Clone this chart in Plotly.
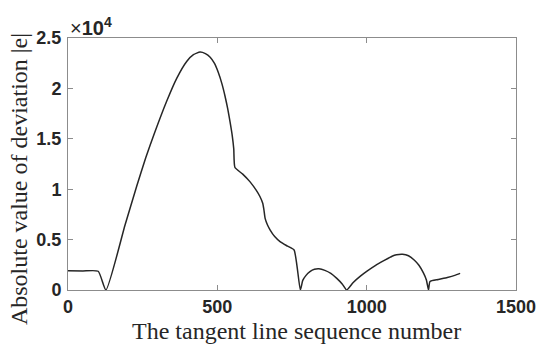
import plotly.graph_objects as go

seq = [0, 50, 101, 127, 191, 230, 260, 290, 330, 364, 398, 420, 442, 460, 476, 490, 503, 515, 526,
       535, 543, 550, 555, 559, 585, 609, 630, 643, 652, 656, 660, 668, 677, 692, 710, 735, 757,
       778, 786, 797, 810, 825, 840, 860, 880, 900, 918, 933,
       955, 980, 1000, 1030, 1060, 1085, 1100, 1120, 1140, 1160, 1175, 1190, 1200, 1207,
       1212, 1240, 1270, 1295, 1313]
dev = [1900, 1890, 1860, 0, 6450, 10300, 13100, 15600, 18700, 21000, 22700, 23350, 23600, 23450, 23100, 22500, 21600, 20500, 19200,
       17950, 16600, 15300, 14000, 12150, 11500, 10750, 9900, 9250, 8600, 7950, 7100, 6450, 5950, 5300, 4800, 4350, 3970,
       0, 950, 1450, 1820, 2050, 2100, 1950, 1650, 1150, 600, 0,
       750, 1400, 1850, 2450, 2950, 3350, 3500, 3550, 3400, 2950, 2450, 1700, 1000, 0,
       850, 1050, 1250, 1450, 1650]

x_ticks = [0, 500, 1000, 1500]
y_ticks = [0, 5000, 10000, 15000, 20000, 25000]
y_tick_labels = ["0", "0.5", "1", "1.5", "2", "2.5"]
x_title = "The tangent line sequence number"
y_title = "Absolute value of deviation |e|"

fig = go.Figure()
fig.add_trace(go.Scatter(x=seq, y=dev, mode="lines",
                         line=dict(color="#262626", width=1.5, shape="spline", smoothing=0.5),
                         showlegend=False))

tick_font = dict(family="Liberation Sans, Arial", size=18, color="#262626")
axis_common = dict(showline=True, linecolor="#8c8c8c", linewidth=1, mirror="ticks",
                   ticks="inside", ticklen=5, tickcolor="#8c8c8c", showgrid=False, zeroline=False,
                   automargin=False, tickfont=tick_font)

title_font = dict(family="Liberation Serif, Times New Roman", size=24, color="#262626")

fig.update_layout(
    width=538, height=346,
    margin=dict(l=68, r=22, t=38, b=56),
    paper_bgcolor="white", plot_bgcolor="white",
    xaxis=dict(range=[0, 1500], tickvals=x_ticks, ticktext=[f"<b>{v}</b>" for v in x_ticks], **axis_common),
    yaxis=dict(range=[0, 25000], tickvals=y_ticks, ticktext=[f"<b>{t}</b>" for t in y_tick_labels],
               ticklabelstandoff=2, **axis_common),
    annotations=[
        dict(text="×<b>10</b><sup><b>4</b></sup>", xref="paper", yref="paper", x=0.0, y=1.0,
             xanchor="left", yanchor="bottom", yshift=-3, showarrow=False,
             font=dict(family="Liberation Sans, Arial", size=20, color="#262626")),
        dict(text=x_title, xref="paper", yref="paper", x=0.511, y=0, yshift=-41,
             xanchor="center", yanchor="middle", showarrow=False, font=title_font),
        dict(text=y_title, xref="paper", yref="paper", x=0, xshift=-49, y=0.44,
             xanchor="center", yanchor="middle", textangle=-90, showarrow=False, font=title_font),
    ],
)
fig.write_html("out.html", config={"displayModeBar": False},
               post_script="document.body.style.margin='0';document.body.style.padding='0';")
